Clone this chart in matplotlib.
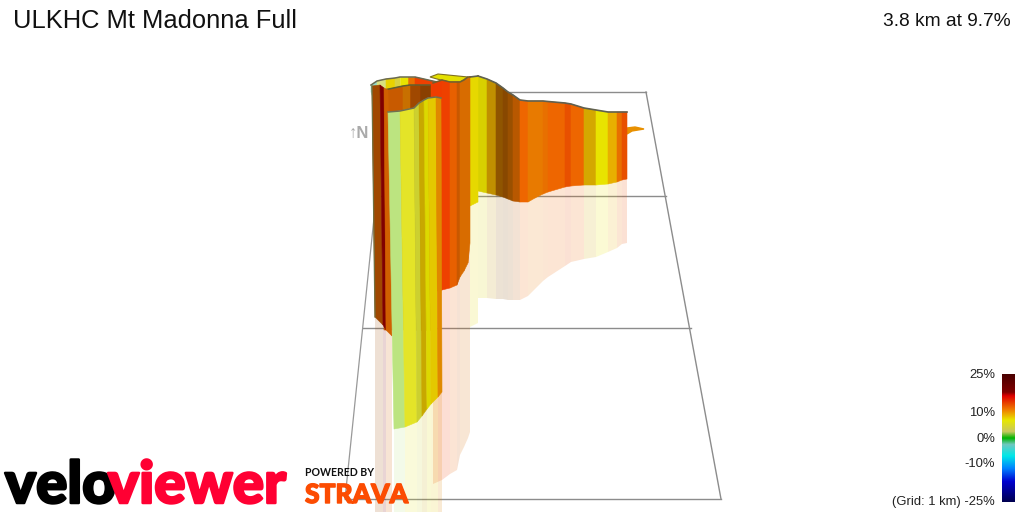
import numpy as np
import matplotlib
matplotlib.use('Agg')
import matplotlib.pyplot as plt
import matplotlib.patheffects as pe
from matplotlib.colors import LinearSegmentedColormap

plt.rcParams['font.family'] = ['Liberation Sans', 'DejaVu Sans']

title = 'ULKHC Mt Madonna Full'
summary = '3.8 km at 9.7%'

# grid lines, picture pixels
grid_y = [92, 196, 328, 499]
grid_left = [387, 376, 363, 345]
grid_right = [646, 666, 691, 721]

# gradient legend
legend_pct = [25, 18, 16.5, 11, 7, 2.5, 0, -2.5, -7, -12, -17, -25]
legend_col = ['#4a0000', '#800000', '#e00000', '#f08000', '#e8e800', '#c8c860',
              '#00b400', '#70c8c0', '#00e8e8', '#0080ff', '#0000d0', '#000050']
legend_ticks = [25, 10, 0, -10, -25]
legend_labels = ['25%', '10%', '0%', '-10%', '(Grid: 1 km) -25%']

# long stretch running off to the right
right_x = [478, 487, 496, 503, 508, 513, 520, 528, 535, 543, 548, 565, 571, 584, 596, 608, 617, 622, 627]
right_top = [76, 79, 83, 88, 92, 95, 100, 101, 101, 101, 101.5, 103, 104, 108, 110, 112, 112, 112, 112]
right_bot = [191, 193, 195, 197, 199, 201, 202, 202, 198, 194, 192, 187, 186, 185, 185, 184, 182, 180, 179]
right_ref = [298, 298, 299, 299, 300, 300, 300, 296, 289, 281, 277, 266, 262, 259, 257, 252, 248, 244, 243]
right_col = ['#d8d000', '#c09000', '#8f5500', '#884800', '#9a5000', '#b85800', '#ee6600', '#e87a00', '#e87a00',
             '#e87000', '#ee6600', '#e85000', '#ee6600', '#d4a800', '#e8e400', '#e8b000', '#e87000', '#e85000']

# small tip after the end of the ribbon
tip_x = [627, 635, 644, 632, 627]
tip_y = [128, 127, 129, 131, 134]

# narrow yellow strip
strip_x = [470, 478]
strip_top = [77, 76]
strip_bot = [206, 202]
strip_ref = [327, 323]
strip_col = ['#e6d800']

# back wall of the hairpin
back_x = [371, 377, 386, 395, 400, 408, 415, 437]
back_top = [85, 81, 79, 78, 77, 77, 77, 82]
back_bot = [92, 110, 110, 110, 110, 110, 110, 110]
back_col = ['#90d8c8', '#d8e080', '#e8d000', '#d8d040', '#e8e400', '#e87000', '#ee4000']

# yellow top face
cap_x = [430, 438, 468, 460, 450, 445, 437]
cap_y = [77, 74, 77, 82, 82, 81, 79]

# red wall
red_x = [433, 442, 450, 457, 460, 464, 468, 470]
red_top = [83, 80, 82, 82, 82, 80, 77, 77]
red_bot = [292, 290, 288, 285, 277, 271, 263, 243]
red_ref = [484, 480, 474, 470, 455, 447, 438, 432]
red_col = ['#f03c00', '#ee4000', '#e86000', '#c85800', '#d86c00', '#d86c00', '#d86c00']

# inner wall
inner_x = [384, 403, 410, 420, 430]
inner_top = [90, 86, 85, 85, 85]
inner_bot = [330, 330, 330, 330, 330]
inner_col = ['#c85a00', '#c87000', '#a04800', '#8a4000']

# left strip
left_xt = [372, 380, 384, 388]
left_xb = [375, 383, 386, 392]
left_top = [86, 85, 88, 90]
left_bot = [317, 325, 330, 336]
left_ref = [520, 520, 520, 520]
left_col = ['#a04800', '#800000', '#d06000']

# front stretch
front_xt = [388, 400, 414, 419, 424, 428, 436, 441]
front_xb = [394, 405, 417, 422, 427, 431, 438, 442]
front_top = [112, 111, 108, 103, 100, 98, 97, 98]
front_bot = [429, 427, 422, 416, 409, 404, 397, 392]
front_ref = [520, 520, 520, 520, 520, 520, 520, 520]
front_col = ['#bce480', '#e4e428', '#ccd030', '#c8a800', '#dcd800', '#e4c800', '#e08800']


def ribbon(ax, xt, yt, xb, yb, cols, alpha=1.0, z=3):
    for i, c in enumerate(cols):
        ax.fill([xt[i], xt[i + 1], xb[i + 1], xb[i]], [yt[i], yt[i + 1], yb[i + 1], yb[i]],
                fc=c, ec=c if alpha == 1.0 else 'none', alpha=alpha, lw=0.4, zorder=z)


fig = plt.figure(figsize=(10.24, 5.12), dpi=100)
ax = fig.add_axes([0, 0, 1, 1])
ax.set_xlim(0, 1024)
ax.set_ylim(512, 0)
ax.axis('off')

# grid
for i, y in enumerate(grid_y):
    ax.plot([grid_left[i], grid_right[i]], [y, y], color='#8c8c8c', lw=1, zorder=1)
ax.plot([grid_left[0], grid_left[-1]], [grid_y[0], grid_y[-1]], color='#999999', lw=0.9, zorder=1)
ax.plot([grid_right[0], grid_right[-1]], [grid_y[0], grid_y[-1]], color='#8c8c8c', lw=1, zorder=1)

ax.text(349, 133, '↑N', fontsize=12, fontweight='bold', color='#aaaaaa', va='center', ha='left', zorder=1)

# reflections
ribbon(ax, right_x, right_bot, right_x, right_ref, right_col, alpha=0.17, z=2)
ribbon(ax, strip_x, strip_bot, strip_x, strip_ref, strip_col, alpha=0.17, z=2)
ribbon(ax, red_x, red_bot, red_x, red_ref, red_col, alpha=0.17, z=2)
ribbon(ax, left_xb, left_bot, left_xb, left_ref, left_col, alpha=0.17, z=2)
ribbon(ax, front_xb, front_bot, front_xb, front_ref, front_col, alpha=0.17, z=2)

# solid ribbon, back to front
ribbon(ax, back_x, back_top, back_x, back_bot, back_col, z=3)
ax.plot(back_x, back_top, color='#6a6a50', lw=1.1, zorder=3.1)
ax.fill(tip_x, tip_y, color='#e89000', zorder=3)
ax.fill(cap_x, cap_y, color='#e4e000', ec='#807020', lw=0.8, zorder=3)
ribbon(ax, right_x, right_top, right_x, right_bot, right_col, z=4)
ax.plot(right_x, right_top, color='#606050', lw=1.2, zorder=4.1)
ribbon(ax, strip_x, strip_top, strip_x, strip_bot, strip_col, z=4.2)
ax.plot(strip_x, strip_top, color='#606050', lw=1.2, zorder=4.3)
ribbon(ax, red_x, red_top, red_x, red_bot, red_col, z=5)
ax.plot(red_x, red_top, color='#706030', lw=1.1, zorder=5.1)
ribbon(ax, inner_x, inner_top, inner_x, inner_bot, inner_col, z=6)
ax.plot(inner_x, inner_top, color='#606030', lw=1.1, zorder=6.1)
ribbon(ax, left_xt, left_top, left_xb, left_bot, left_col, z=7)
ax.plot([left_xt[0], left_xb[0]], [left_top[0], left_bot[0]], color='#707040', lw=0.9, zorder=7.1)
ribbon(ax, front_xt, front_top, front_xb, front_bot, front_col, z=8)
ax.plot(front_xt, front_top, color='#707050', lw=1.1, zorder=8.1)

# titles
ax.text(13, 21, title, fontsize=18.4, color='#111111', va='center', ha='left', zorder=12)
ax.text(1011, 21, summary, fontsize=13.8, color='#111111', va='center', ha='right', zorder=12)

# legend gradient
pct = np.array(legend_pct, dtype=float)
stops = (pct - pct.min()) / (pct.max() - pct.min())
cmap = LinearSegmentedColormap.from_list('grade', list(zip(stops[::-1], legend_col[::-1])))
pct_y = lambda p: 438.5 - 2.55 * p
vals = np.linspace(25, -25, 256).reshape(-1, 1)
ax.imshow(vals, cmap=cmap, vmin=-25, vmax=25, extent=(1002, 1015, pct_y(-25), pct_y(25)),
          aspect='auto', zorder=12)
ax.set_xlim(0, 1024)
ax.set_ylim(512, 0)
for t, lab in zip(legend_ticks, legend_labels):
    ax.text(995, pct_y(t), lab, fontsize=9.4, color='#222222', ha='right', va='center', zorder=12)

# logos
velo = ax.text(5, 503, 'velo', fontsize=42, fontweight='black', family='Lato', color='black', va='baseline', zorder=13)
view = ax.text(108, 503, 'viewer', fontsize=42, fontweight='black', family='Lato', color='#ff0033', va='baseline', zorder=13)
velo.set_path_effects([pe.withStroke(linewidth=1.8, foreground='black')])
view.set_path_effects([pe.withStroke(linewidth=1.8, foreground='#ff0033')])
ax.text(305, 473, 'POWERED BY', fontsize=7.6, fontweight='bold', family='Lato', color='#111111', va='center', zorder=13)
strava = ax.text(305, 503, 'STRAVA', fontsize=19, fontweight='black', family='Lato', color='#fc4c02', va='baseline', zorder=13)
strava.set_path_effects([pe.withStroke(linewidth=1, foreground='#fc4c02')])

plt.savefig('out.png', dpi=100)
